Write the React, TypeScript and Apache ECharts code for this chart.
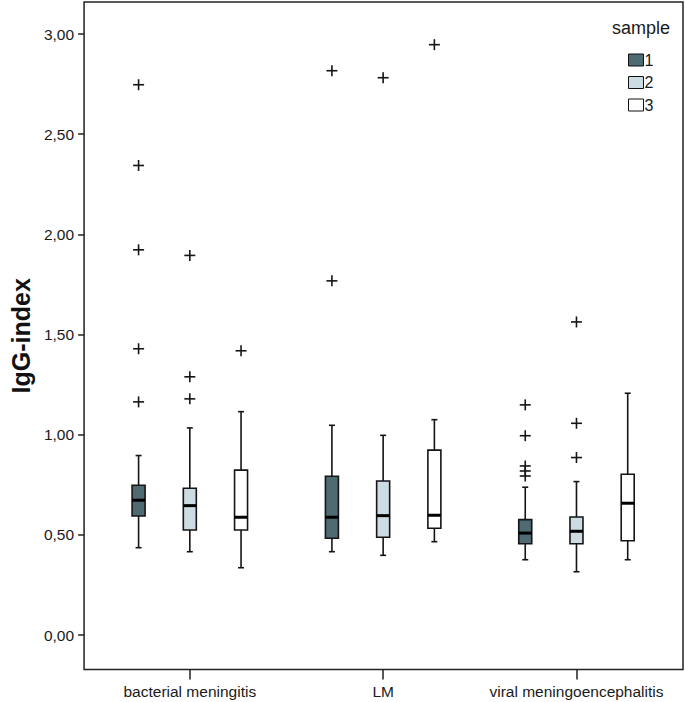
import React, { useEffect, useRef } from "react";
import * as echarts from "echarts";

const categories = ["bacterial meningitis", "LM", "viral meningoencephalitis"];
const sampleNames = ["1", "2", "3"];
const sampleColors = ["#4f6a70", "#cddbe2", "#ffffff"];

// [lower whisker, Q1, median, Q3, upper whisker] per category
const sample1Stats = [
  [0.436, 0.594, 0.673, 0.748, 0.896],
  [0.416, 0.483, 0.588, 0.793, 1.047],
  [0.376, 0.456, 0.509, 0.576, 0.738],
];
const sample2Stats = [
  [0.416, 0.524, 0.646, 0.733, 1.034],
  [0.398, 0.488, 0.596, 0.769, 0.997],
  [0.316, 0.456, 0.518, 0.589, 0.766],
];
const sample3Stats = [
  [0.336, 0.524, 0.588, 0.823, 1.115],
  [0.466, 0.533, 0.598, 0.923, 1.075],
  [0.376, 0.471, 0.658, 0.803, 1.207],
];

const sample1Outliers = [
  [2.747, 2.344, 1.923, 1.429, 1.164],
  [2.817, 1.768],
  [1.149, 0.995, 0.844, 0.819, 0.794],
];
const sample2Outliers = [
  [1.895, 1.289, 1.179],
  [2.782],
  [1.563, 1.057, 0.886],
];
const sample3Outliers = [[1.419], [2.947], []];

const yTicks = [0, 0.5, 1, 1.5, 2, 2.5, 3];
const categoryTicks = [0, 1, 2];

const FONT = "'Liberation Sans', Arial, sans-serif";

export default function App() {
  const ref = useRef<HTMLDivElement>(null);

  useEffect(() => {
    if (!ref.current) return;
    const chart = echarts.init(ref.current, null, { renderer: "svg" });

    const allStats = [sample1Stats, sample2Stats, sample3Stats];
    const allOutliers = [sample1Outliers, sample2Outliers, sample3Outliers];
    const groupOffset = 0.265;

    const boxSeries = allStats.map((stats, s) => ({
      type: "custom",
      name: sampleNames[s],
      itemStyle: { color: sampleColors[s], borderColor: "#111", borderWidth: 1 },
      data: stats.map((st, c) => [c + (s - 1) * groupOffset, ...st]),
      encode: { x: 0, y: [1, 2, 3, 4, 5] },
      renderItem: (params: any, api: any) => {
        const x = api.value(0);
        const pLo = api.coord([x, api.value(1)]);
        const pQ1 = api.coord([x, api.value(2)]);
        const pMed = api.coord([x, api.value(3)]);
        const pQ3 = api.coord([x, api.value(4)]);
        const pHi = api.coord([x, api.value(5)]);
        const cx = pLo[0];
        const hw = 6.5;
        const cw = 3;
        const stroke = "#151515";
        const ls = { stroke, lineWidth: 1.6 };
        return {
          type: "group",
          children: [
            { type: "line", shape: { x1: cx, y1: pHi[1], x2: cx, y2: pQ3[1] }, style: ls },
            { type: "line", shape: { x1: cx, y1: pQ1[1], x2: cx, y2: pLo[1] }, style: ls },
            { type: "line", shape: { x1: cx - cw, y1: pHi[1], x2: cx + cw, y2: pHi[1] }, style: ls },
            { type: "line", shape: { x1: cx - cw, y1: pLo[1], x2: cx + cw, y2: pLo[1] }, style: ls },
            {
              type: "rect",
              shape: { x: cx - hw, y: pQ3[1], width: hw * 2, height: pQ1[1] - pQ3[1] },
              style: { fill: sampleColors[s], stroke, lineWidth: 1.6 },
            },
            {
              type: "line",
              shape: { x1: cx - hw, y1: pMed[1], x2: cx + hw, y2: pMed[1] },
              style: { stroke: "#000", lineWidth: 3 },
            },
          ],
        };
      },
    }));

    const outlierData: number[][] = [];
    allOutliers.forEach((outs, s) =>
      outs.forEach((vals, c) => vals.forEach((v) => outlierData.push([c + (s - 1) * groupOffset, v])))
    );

    const outlierSeries = {
      type: "custom",
      name: "outliers",
      data: outlierData,
      encode: { x: 0, y: 1 },
      renderItem: (params: any, api: any) => {
        const p = api.coord([api.value(0), api.value(1)]);
        const a = 5.5;
        const st = { stroke: "#151515", lineWidth: 1.6 };
        return {
          type: "group",
          children: [
            { type: "line", shape: { x1: p[0] - a, y1: p[1], x2: p[0] + a, y2: p[1] }, style: st },
            { type: "line", shape: { x1: p[0], y1: p[1] - a, x2: p[0], y2: p[1] + a }, style: st },
          ],
        };
      },
    };

    chart.setOption({
      animation: false,
      backgroundColor: "#ffffff",
      title: {
        text: "sample",
        left: 607,
        top: 14,
        textStyle: { fontFamily: FONT, fontSize: 18, fontWeight: "normal", color: "#1a1a1a" },
      },
      legend: {
        data: sampleNames,
        orient: "vertical",
        left: 623,
        top: 47,
        itemWidth: 15,
        itemHeight: 12,
        itemGap: 6.5,
        icon: "rect",
        itemStyle: { borderColor: "#111", borderWidth: 1 },
        textStyle: { fontFamily: FONT, fontSize: 16, color: "#1a1a1a", padding: [0, 0, 0, -4] },
        selectedMode: false,
      },
      grid: {
        left: 76,
        top: 2,
        right: 2,
        bottom: 32.5,
        show: true,
        borderColor: "#222",
        borderWidth: 1.5,
        backgroundColor: "transparent",
      },
      xAxis: {
        type: "value",
        position: "bottom",
        min: -0.547,
        max: 2.551,
        axisLine: { show: false, onZero: false },
        splitLine: { show: false },
        axisTick: { show: true, length: 10, lineStyle: { color: "#222", width: 1.5 }, customValues: categoryTicks },
        axisLabel: {
          customValues: categoryTicks,
          formatter: (v: number) => categories[Math.round(v)] ?? "",
          fontFamily: FONT,
          fontSize: 15.5,
          color: "#1a1a1a",
          margin: 14,
        },
      },
      yAxis: {
        type: "value",
        position: "left",
        min: -0.172,
        max: 3.16,
        name: "IgG-index",
        nameLocation: "middle",
        nameGap: 46,
        nameTextStyle: { fontFamily: FONT, fontSize: 25, fontWeight: "bold", color: "#111" },
        axisLine: { show: false, onZero: false },
        splitLine: { show: false },
        axisTick: { show: true, length: 6, lineStyle: { color: "#222", width: 1.5 }, customValues: yTicks },
        axisLabel: {
          customValues: yTicks,
          formatter: (v: number) => v.toFixed(2).replace(".", ","),
          fontFamily: FONT,
          fontSize: 15.5,
          color: "#1a1a1a",
          margin: 10,
        },
      },
      series: [...boxSeries, outlierSeries],
    });

    return () => chart.dispose();
  }, []);

  return (
    <div
      ref={ref}
      style={{ position: "fixed", left: 0, top: 0, width: 685, height: 702 }}
    />
  );
}
